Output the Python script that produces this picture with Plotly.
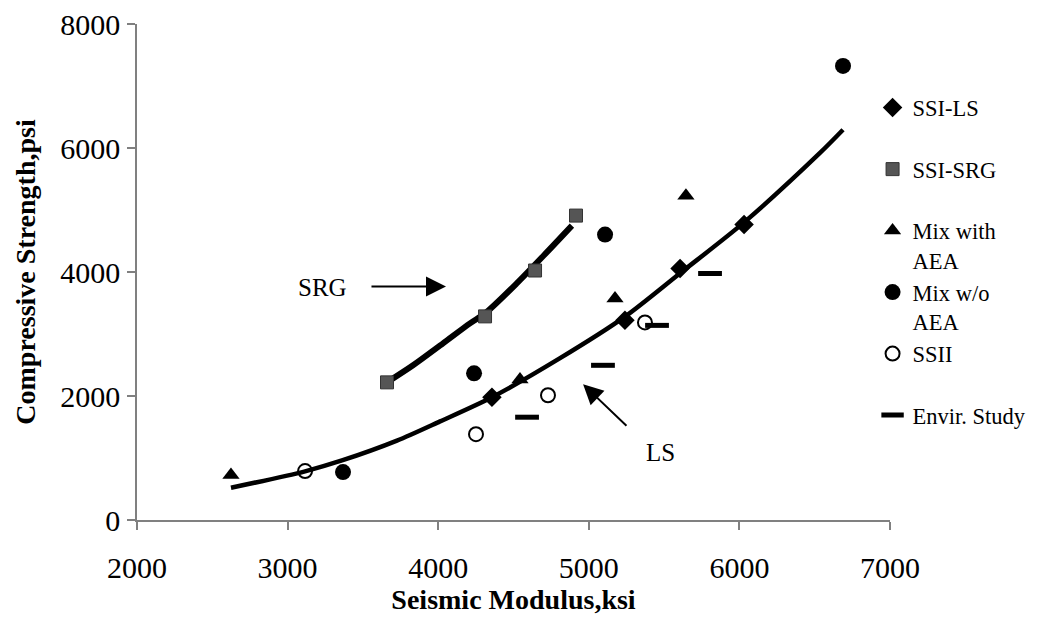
import plotly.graph_objects as go

# ---- data ----
ssi_ls_x = [4357, 5240, 5606, 6031]
ssi_ls_y = [1980, 3220, 4056, 4765]

ssi_srg_x = [3660, 4311, 4643, 4915]
ssi_srg_y = [2220, 3284, 4024, 4910]

aea_x = [2624, 4543, 5174, 5645]
aea_y = [724, 2265, 3573, 5231]

noaea_x = [3368, 4238, 5108, 6688]
noaea_y = [773, 2366, 4604, 7324]

ssii_x = [3116, 4251, 4729, 5373]
ssii_y = [789, 1384, 2012, 3187]

envir_x = [4590, 5094, 5453, 5805]
envir_y = [1658, 2495, 3139, 3976]

# trend curves
ls_curve_x = [2624, 3116, 3361, 3726, 4012, 4357, 4809, 5240, 5606, 6031, 6535, 6688]
ls_curve_y = [520, 785, 960, 1280, 1590, 1980, 2610, 3280, 3980, 4800, 5920, 6294]

srg_curve_x = [3660, 3833, 4032, 4211, 4311, 4523, 4722, 4888]
srg_curve_y = [2220, 2495, 2849, 3171, 3332, 3820, 4320, 4748]

SERIF = "Liberation Serif"

fig = go.Figure()

# trend lines (not in legend)
fig.add_trace(go.Scatter(x=ls_curve_x, y=ls_curve_y, mode="lines",
                         line=dict(color="black", width=4.5, shape="spline", smoothing=0.8),
                         showlegend=False, hoverinfo="skip"))
fig.add_trace(go.Scatter(x=srg_curve_x, y=srg_curve_y, mode="lines",
                         line=dict(color="black", width=6, shape="spline", smoothing=0.8),
                         showlegend=False, hoverinfo="skip"))

NB = "<br>\u00a0"
fig.add_trace(go.Scatter(x=ssi_ls_x, y=ssi_ls_y, mode="markers", name="SSI-LS" + NB,
                         marker=dict(symbol="diamond", size=15, color="black")))
fig.add_trace(go.Scatter(x=ssi_srg_x, y=ssi_srg_y, mode="markers", name="SSI-SRG" + NB,
                         marker=dict(symbol="square", size=13, color="#555555",
                                     line=dict(color="#333333", width=1))))
fig.add_trace(go.Scatter(x=aea_x, y=aea_y, mode="markers", name="Mix with<br>AEA",
                         marker=dict(symbol="triangle-up", size=15, color="black")))
fig.add_trace(go.Scatter(x=noaea_x, y=noaea_y, mode="markers", name="Mix w/o<br>AEA",
                         marker=dict(symbol="circle", size=16, color="black")))
fig.add_trace(go.Scatter(x=ssii_x, y=ssii_y, mode="markers", name="SSII" + NB,
                         marker=dict(symbol="circle-open", size=14, color="black",
                                     line=dict(width=2))))
fig.add_trace(go.Scatter(x=envir_x, y=envir_y, mode="markers", name="Envir. Study" + NB,
                         marker=dict(symbol="line-ew", size=17, color="black",
                                     line=dict(color="black", width=5))))

# annotations with arrows
fig.add_annotation(x=4052, y=3766, ax=3547, ay=3766, xref="x", yref="y", axref="x", ayref="y",
                   text="", showarrow=True, arrowhead=2, arrowsize=2.0, arrowwidth=2,
                   arrowcolor="black")
fig.add_annotation(x=3235, y=3750, text="SRG", showarrow=False,
                   font=dict(family=SERIF, size=25, color="black"))
fig.add_annotation(x=4962, y=2189, ax=5260, ay=1497, xref="x", yref="y", axref="x", ayref="y",
                   text="", showarrow=True, arrowhead=2, arrowsize=2.0, arrowwidth=2,
                   arrowcolor="black")
fig.add_annotation(x=5473, y=1094, text="LS", showarrow=False,
                   font=dict(family=SERIF, size=25, color="black"))

axis_common = dict(showgrid=False, zeroline=False, showline=True, linecolor="#808080",
                   linewidth=1.5, ticks="outside", tickcolor="#808080", ticklen=8,
                   tickwidth=1.5, automargin=False, ticklabeloverflow="allow",
                   tickfont=dict(family=SERIF, size=30, color="black"))

fig.update_xaxes(range=[2000, 7000], tickvals=[2000, 3000, 4000, 5000, 6000, 7000],
                 ticklabelstandoff=12,
                 title=dict(text="<b>Seismic Modulus,ksi</b>",
                            font=dict(family=SERIF, size=28, color="black"), standoff=3),
                 **axis_common)
fig.update_yaxes(range=[0, 8000], tickvals=[0, 2000, 4000, 6000, 8000],
                 ticklabelstandoff=1,
                 title=dict(text="<b>Compressive Strength,psi</b>",
                            font=dict(family=SERIF, size=28, color="black"), standoff=16),
                 **axis_common)

# page body adds an 8px offset, so the figure is 8px smaller in each direction
fig.update_layout(
    width=1036, height=628,
    margin=dict(l=129, r=154, t=16, b=116),
    paper_bgcolor="white", plot_bgcolor="white",
    legend=dict(x=1.188, y=0.874, xanchor="right", yanchor="top",
                font=dict(family=SERIF, size=22.5, color="black"),
                valign="top", tracegroupgap=0, itemwidth=30,
                bgcolor="rgba(0,0,0,0)"),
)
fig.update_layout(legend_traceorder="grouped")
for i, tr in enumerate(fig.data):
    tr.legendgroup = f"g{i}"

fig.write_html("out.html")
